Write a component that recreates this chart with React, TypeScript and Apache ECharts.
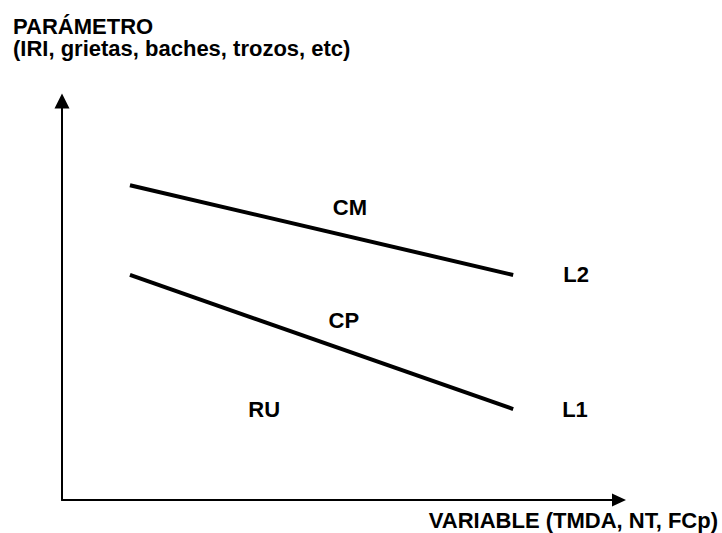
import React, { useEffect, useRef } from "react";
import * as echarts from "echarts";

// Conceptual diagram values (arbitrary units on 0..100 scales)
const lineL2X = [12.2, 81.0];
const lineL2Y = [78.9, 56.4];
const lineL1X = [12.2, 81.0];
const lineL1Y = [56.4, 22.8];

const regionLabels = ["CM", "L2", "CP", "RU", "L1"];
const regionLabelX = [51.7, 92.3, 50.6, 36.3, 92.1];
const regionLabelY = [73.4, 56.5, 44.9, 22.8, 22.8];

const yTitleLines = ["PARÁMETRO", "(IRI, grietas, baches, trozos, etc)"];
const xTitle = "VARIABLE (TMDA, NT, FCp)";

const FONT = "'Liberation Sans', Arial, Helvetica, sans-serif";

export default function App() {
  const ref = useRef<HTMLDivElement>(null);

  useEffect(() => {
    if (!ref.current) return;
    const chart = echarts.init(ref.current, null, { renderer: "svg" });
    const textStyle = {
      fontFamily: FONT,
      fontWeight: "bold" as const,
      fontSize: 22,
      color: "#000",
    };
    chart.setOption({
      animation: false,
      backgroundColor: "#fff",
      title: [
        {
          text: yTitleLines[0],
          left: 13,
          top: 16,
          padding: 0,
          textStyle: { ...textStyle, lineHeight: 20 },
        },
        {
          text: yTitleLines[1],
          left: 13,
          top: 38,
          padding: 0,
          textStyle: { ...textStyle, lineHeight: 20 },
        },
        {
          text: xTitle,
          right: 4,
          top: 509,
          padding: 0,
          textStyle: { ...textStyle, lineHeight: 22 },
        },
      ],
      grid: { left: 62, right: 103, top: 101, bottom: 33, containLabel: false },
      xAxis: {
        type: "value",
        min: 0,
        max: 100,
        axisLine: {
          show: true,
          onZero: false,
          symbol: ["none", "triangle"],
          symbolSize: [13, 14],
          lineStyle: { color: "#000", width: 2 },
        },
        axisTick: { show: false },
        axisLabel: { show: false },
        splitLine: { show: false },
      },
      yAxis: {
        type: "value",
        min: 0,
        max: 100,
        axisLine: {
          show: true,
          onZero: false,
          symbol: ["none", "triangle"],
          symbolSize: [15, 15],
          lineStyle: { color: "#000", width: 2 },
        },
        axisTick: { show: false },
        axisLabel: { show: false },
        splitLine: { show: false },
      },
      series: [
        {
          type: "line",
          name: "L2",
          data: lineL2X.map((x, i) => [x, lineL2Y[i]]),
          showSymbol: false,
          symbol: "none",
          lineStyle: { color: "#000", width: 4 },
        },
        {
          type: "line",
          name: "L1",
          data: lineL1X.map((x, i) => [x, lineL1Y[i]]),
          showSymbol: false,
          symbol: "none",
          lineStyle: { color: "#000", width: 4 },
        },
        {
          type: "scatter",
          name: "labels",
          symbolSize: 1,
          itemStyle: { color: "rgba(0,0,0,0)", opacity: 1 },
          data: regionLabels.map((n, i) => ({
            name: n,
            value: [regionLabelX[i], regionLabelY[i]],
          })),
          label: {
            show: true,
            position: "inside",
            formatter: (p: any) => p.name,
            ...textStyle,
            color: "#000",
            opacity: 1,
            textBorderWidth: 0,
          },
        },
      ],
    });
    return () => chart.dispose();
  }, []);

  return (
    <div
      ref={ref}
      style={{ position: "absolute", left: 0, top: 0, width: 722, height: 533 }}
    />
  );
}
